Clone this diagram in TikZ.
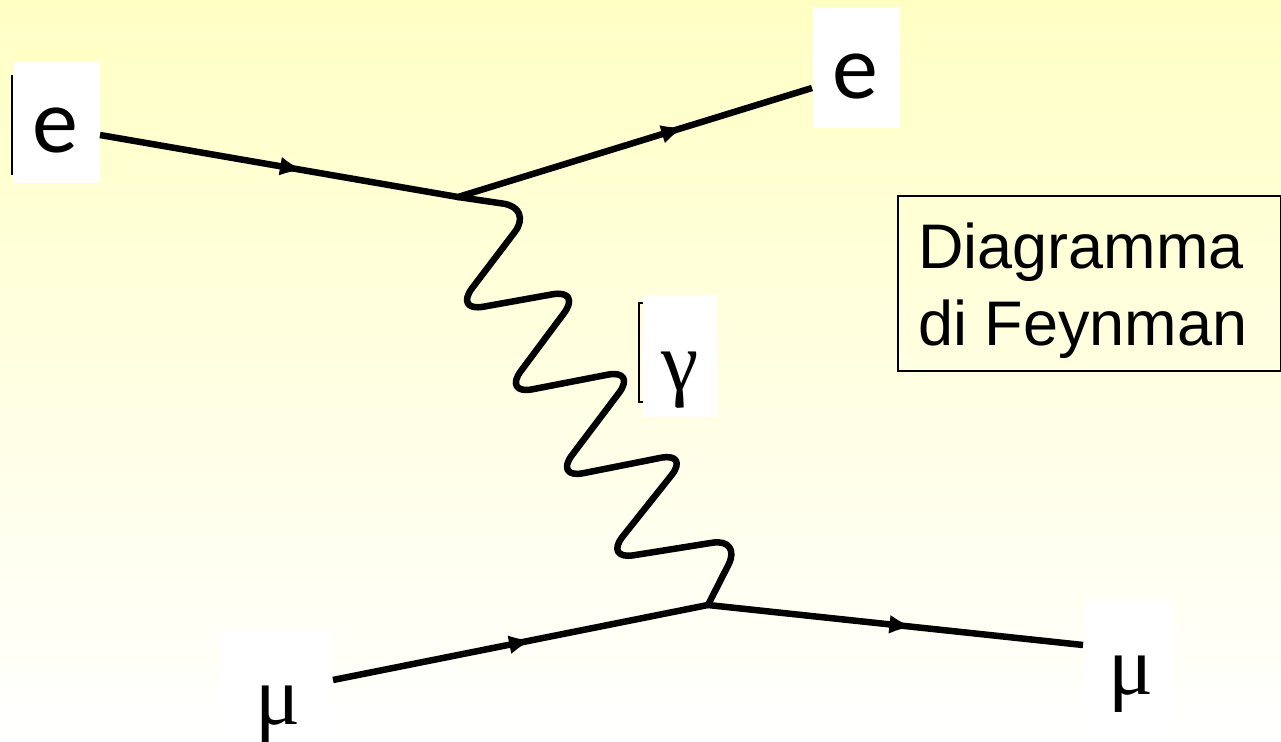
\documentclass[tikz,border=0pt]{standalone}
\usepackage{fontspec}
\setmainfont{Liberation Serif}
\newfontfamily\efont{Carlito}
\newfontfamily\arialfont{Liberation Sans}
\usetikzlibrary{arrows.meta,decorations.markings}
\definecolor{bgtop}{RGB}{255,255,196}
\tikzset{
  whitebox/.style={fill=white, draw=none, inner sep=0pt, anchor=north west},
  fermion/.style={line width=6.5pt, postaction={decorate}},
  fartip/.tip={Latex[length=24pt,width=19pt]},
  photon/.style={line width=6.5pt, rounded corners=30pt, line join=round, line cap=round},
  elabel/.style={inner sep=0pt, font=\efont\fontsize{92}{92}\selectfont},
  glabel/.style={inner sep=0pt, font=\fontsize{84}{84}\selectfont},
  ftext/.style={inner sep=0pt, anchor=base west, font=\arialfont\fontsize{63}{63}\selectfont},
  thinbar/.style={line width=2pt}
}
\begin{document}
\begin{tikzpicture}[x=1pt,y=-1pt]
\useasboundingbox (0,0) rectangle (1281,741);
\shade[top color=bgtop, bottom color=white] (0,0) rectangle (1281,741);

% white label boxes
\node[whitebox, minimum width=87pt, minimum height=121pt] (eLbox) at (13,62) {};
\node[whitebox, minimum width=87pt, minimum height=121pt] (eRbox) at (813,7) {};
\node[whitebox, minimum width=74pt, minimum height=122pt] (gbox) at (643,295) {};
\node[whitebox, minimum width=113pt, minimum height=111pt] (muLbox) at (220,630) {};
\node[whitebox, minimum width=88pt, minimum height=141pt] (muRbox) at (1085,600) {};

% labels
\node[elabel] (eL) at (55,131) {e};
\node[elabel] (eR) at (855,77) {e};
\node[glabel] (g) at (680,380) {γ};
\node[glabel] (muL) at (278,714) {μ};
\node[glabel] (muR) at (1131,684) {μ};

% thin bars
\draw[thinbar] (12,75) -- (12,175);
\draw[thinbar] (643,303) -- (639,303) -- (639,402) -- (643,402);

% vertices and line ends
\coordinate (v1) at (458,197);
\coordinate (v2) at (708,605);
\coordinate (eLend) at (100,135);
\coordinate (eRend) at (812,88);
\coordinate (muLend) at (333,680);
\coordinate (muRend) at (1083,645);

% photon
\draw[photon] (v1) -- (533,208) -- (454,312) -- (582,289) -- (503,395)
  -- (637,369) -- (554,479) -- (690,452) -- (604,560) -- (742,538) -- (v2);

% fermion lines
\draw[fermion, decoration={markings,
   mark=at position 207pt with {\arrow{fartip}},
   mark=at position 601pt with {\arrow{fartip}}}]
  (eLend) -- (v1) -- (eRend);
\draw[fermion, decoration={markings,
   mark=at position 204pt with {\arrow{fartip}},
   mark=at position 589pt with {\arrow{fartip}}}]
  (muLend) -- (v2) -- (muRend);

% frame and text
\node[draw, line width=1.5pt, inner sep=0pt, anchor=north west,
  minimum width=383pt, minimum height=175pt] (frame) at (897,195) {};
\node[ftext] (t1) at (918,268) {Diagramma};
\node[ftext] (t2) at (918,345) {di Feynman};
\end{tikzpicture}
\end{document}
